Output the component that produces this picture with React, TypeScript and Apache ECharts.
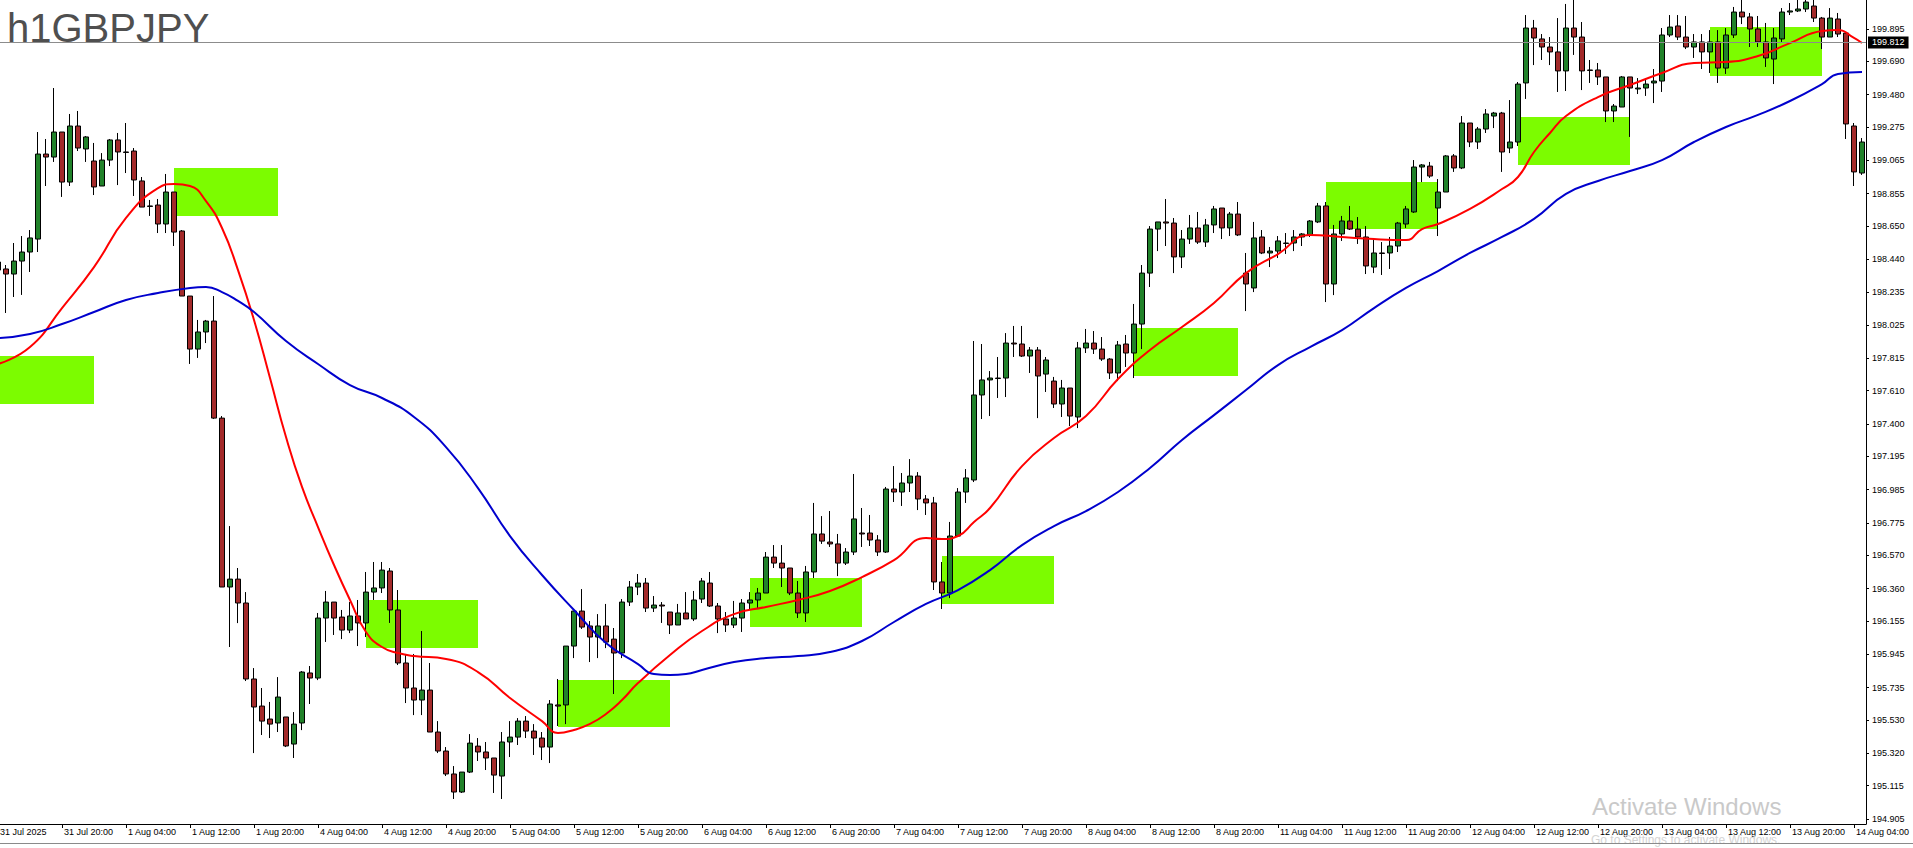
import React, { useEffect, useRef } from 'react';
import * as echarts from 'echarts';

// Each bar: [open, close, low, high]  (H1 GBPJPY, 31 Jul 12:00 .. 14 Aug 05:00)
const bars: number[][] = [
  [198.423, 198.372, 198.183, 198.499],
  [198.379, 198.347, 198.101, 198.404],
  [198.347, 198.429, 198.202, 198.543],
  [198.429, 198.486, 198.215, 198.587],
  [198.486, 198.575, 198.360, 198.625],
  [198.568, 199.105, 198.486, 199.244],
  [199.105, 199.086, 198.903, 199.200],
  [199.086, 199.244, 199.055, 199.522],
  [199.244, 198.928, 198.834, 199.244],
  [198.928, 199.282, 198.903, 199.358],
  [199.282, 199.143, 199.124, 199.377],
  [199.137, 199.213, 199.055, 199.219],
  [199.061, 198.897, 198.846, 199.175],
  [198.903, 199.067, 198.903, 199.111],
  [199.067, 199.194, 199.029, 199.200],
  [199.194, 199.118, 198.909, 199.238],
  [199.118, 199.115, 198.985, 199.301],
  [199.124, 198.941, 198.840, 199.143],
  [198.935, 198.770, 198.770, 198.960],
  [198.777, 198.774, 198.714, 198.815],
  [198.783, 198.663, 198.606, 198.821],
  [198.663, 198.865, 198.606, 198.979],
  [198.865, 198.612, 198.524, 198.865],
  [198.619, 198.208, 198.208, 198.625],
  [198.208, 197.873, 197.779, 198.208],
  [197.873, 197.981, 197.817, 198.057],
  [197.981, 198.050, 197.911, 198.057],
  [198.050, 197.437, 197.431, 198.208],
  [197.437, 196.370, 196.370, 197.450],
  [196.370, 196.420, 195.991, 196.755],
  [196.420, 196.269, 196.142, 196.490],
  [196.269, 195.789, 195.776, 196.338],
  [195.789, 195.612, 195.321, 195.858],
  [195.618, 195.523, 195.435, 195.732],
  [195.536, 195.504, 195.416, 195.644],
  [195.511, 195.675, 195.454, 195.801],
  [195.549, 195.366, 195.359, 195.549],
  [195.378, 195.504, 195.290, 195.580],
  [195.511, 195.833, 195.466, 195.839],
  [195.827, 195.795, 195.631, 195.871],
  [195.795, 196.174, 195.782, 196.206],
  [196.174, 196.275, 196.023, 196.345],
  [196.275, 196.174, 196.067, 196.275],
  [196.180, 196.098, 196.041, 196.225],
  [196.098, 196.187, 196.079, 196.275],
  [196.187, 196.143, 195.997, 196.288],
  [196.143, 196.338, 196.054, 196.465],
  [196.338, 196.364, 196.288, 196.528],
  [196.364, 196.477, 196.332, 196.528],
  [196.471, 196.225, 196.143, 196.490],
  [196.225, 195.890, 195.877, 196.351],
  [195.890, 195.732, 195.637, 195.947],
  [195.732, 195.656, 195.561, 195.947],
  [195.656, 195.719, 195.561, 196.092],
  [195.719, 195.454, 195.454, 195.890],
  [195.454, 195.334, 195.321, 195.523],
  [195.334, 195.189, 195.176, 195.359],
  [195.189, 195.075, 195.031, 195.239],
  [195.075, 195.201, 195.069, 195.201],
  [195.201, 195.384, 195.195, 195.441],
  [195.365, 195.328, 195.271, 195.416],
  [195.328, 195.290, 195.214, 195.391],
  [195.290, 195.182, 195.069, 195.290],
  [195.176, 195.391, 195.031, 195.454],
  [195.391, 195.422, 195.296, 195.523],
  [195.422, 195.523, 195.372, 195.542],
  [195.523, 195.460, 195.416, 195.555],
  [195.460, 195.416, 195.309, 195.504],
  [195.416, 195.359, 195.277, 195.454],
  [195.359, 195.631, 195.258, 195.656],
  [195.625, 195.618, 195.492, 195.789],
  [195.625, 195.997, 195.504, 195.997],
  [195.997, 196.218, 195.921, 196.218],
  [196.218, 196.117, 196.105, 196.357],
  [196.124, 196.054, 195.896, 196.155],
  [196.054, 196.124, 195.921, 196.199],
  [196.124, 196.022, 195.984, 196.263],
  [196.041, 195.953, 195.694, 196.111],
  [195.953, 196.275, 195.921, 196.294],
  [196.275, 196.370, 196.250, 196.408],
  [196.370, 196.395, 196.319, 196.452],
  [196.395, 196.237, 196.212, 196.427],
  [196.237, 196.256, 196.212, 196.313],
  [196.256, 196.250, 196.143, 196.275],
  [196.212, 196.130, 196.073, 196.212],
  [196.130, 196.206, 196.130, 196.263],
  [196.206, 196.168, 196.168, 196.338],
  [196.168, 196.288, 196.155, 196.345],
  [196.294, 196.408, 196.269, 196.427],
  [196.395, 196.250, 196.244, 196.465],
  [196.250, 196.168, 196.079, 196.269],
  [196.168, 196.130, 196.086, 196.212],
  [196.130, 196.174, 196.111, 196.282],
  [196.174, 196.269, 196.086, 196.294],
  [196.269, 196.288, 196.231, 196.338],
  [196.288, 196.332, 196.231, 196.364],
  [196.332, 196.559, 196.332, 196.591],
  [196.559, 196.521, 196.490, 196.635],
  [196.521, 196.490, 196.370, 196.635],
  [196.490, 196.332, 196.319, 196.490],
  [196.332, 196.206, 196.174, 196.408],
  [196.206, 196.465, 196.149, 196.503],
  [196.465, 196.705, 196.427, 196.901],
  [196.705, 196.660, 196.642, 196.818],
  [196.654, 196.642, 196.623, 196.850],
  [196.642, 196.521, 196.439, 196.705],
  [196.521, 196.591, 196.509, 196.616],
  [196.591, 196.800, 196.572, 197.084],
  [196.711, 196.705, 196.623, 196.869],
  [196.711, 196.667, 196.629, 196.825],
  [196.667, 196.591, 196.566, 196.698],
  [196.591, 196.989, 196.585, 197.002],
  [196.989, 196.970, 196.907, 197.134],
  [196.970, 197.027, 196.882, 197.090],
  [197.027, 197.071, 196.970, 197.178],
  [197.071, 196.926, 196.856, 197.096],
  [196.926, 196.901, 196.825, 196.951],
  [196.901, 196.402, 196.351, 196.939],
  [196.402, 196.332, 196.231, 196.528],
  [196.332, 196.692, 196.300, 196.781],
  [196.692, 196.970, 196.686, 196.995],
  [196.970, 197.059, 196.901, 197.115],
  [197.046, 197.583, 197.033, 197.924],
  [197.583, 197.678, 197.431, 197.905],
  [197.678, 197.690, 197.450, 197.734],
  [197.690, 197.687, 197.564, 197.823],
  [197.690, 197.911, 197.570, 197.974],
  [197.911, 197.905, 197.823, 198.019],
  [197.905, 197.829, 197.823, 198.019],
  [197.829, 197.867, 197.722, 197.886],
  [197.867, 197.703, 197.437, 197.886],
  [197.715, 197.804, 197.602, 197.823],
  [197.671, 197.526, 197.501, 197.697],
  [197.526, 197.627, 197.444, 197.678],
  [197.627, 197.450, 197.387, 197.627],
  [197.444, 197.880, 197.374, 197.918],
  [197.880, 197.911, 197.848, 198.000],
  [197.911, 197.873, 197.842, 197.987],
  [197.873, 197.810, 197.798, 197.949],
  [197.810, 197.722, 197.684, 197.816],
  [197.722, 197.899, 197.671, 197.924],
  [197.905, 197.848, 197.760, 197.962],
  [197.848, 198.031, 197.690, 198.158],
  [198.031, 198.353, 197.873, 198.404],
  [198.353, 198.631, 198.265, 198.650],
  [198.631, 198.676, 198.492, 198.676],
  [198.676, 198.669, 198.524, 198.821],
  [198.669, 198.455, 198.353, 198.701],
  [198.455, 198.568, 198.385, 198.625],
  [198.568, 198.638, 198.537, 198.720],
  [198.638, 198.549, 198.537, 198.739],
  [198.549, 198.657, 198.518, 198.695],
  [198.657, 198.758, 198.606, 198.777],
  [198.764, 198.638, 198.568, 198.764],
  [198.638, 198.726, 198.587, 198.739],
  [198.726, 198.594, 198.587, 198.802],
  [198.353, 198.284, 198.113, 198.480],
  [198.259, 198.575, 198.233, 198.676],
  [198.581, 198.480, 198.473, 198.625],
  [198.480, 198.492, 198.391, 198.518],
  [198.492, 198.556, 198.448, 198.587],
  [198.543, 198.540, 198.474, 198.606],
  [198.543, 198.581, 198.492, 198.625],
  [198.581, 198.600, 198.524, 198.606],
  [198.594, 198.682, 198.581, 198.688],
  [198.676, 198.777, 198.669, 198.796],
  [198.777, 198.284, 198.170, 198.802],
  [198.284, 198.600, 198.214, 198.657],
  [198.600, 198.682, 198.556, 198.714],
  [198.682, 198.631, 198.625, 198.777],
  [198.631, 198.581, 198.537, 198.707],
  [198.581, 198.398, 198.347, 198.650],
  [198.391, 198.480, 198.353, 198.562],
  [198.480, 198.477, 198.341, 198.549],
  [198.480, 198.524, 198.379, 198.581],
  [198.524, 198.669, 198.486, 198.676],
  [198.663, 198.758, 198.638, 198.777],
  [198.739, 199.023, 198.733, 199.067],
  [199.023, 199.036, 198.928, 199.042],
  [199.029, 198.966, 198.954, 199.055],
  [198.764, 198.865, 198.587, 198.947],
  [198.865, 199.093, 198.865, 199.099],
  [199.093, 199.017, 198.992, 199.105],
  [199.017, 199.301, 199.010, 199.345],
  [199.301, 199.181, 199.149, 199.301],
  [199.181, 199.263, 199.137, 199.276],
  [199.263, 199.358, 199.238, 199.389],
  [199.345, 199.364, 199.269, 199.371],
  [199.364, 199.118, 198.992, 199.371],
  [199.143, 199.181, 199.111, 199.446],
  [199.181, 199.547, 199.156, 199.560],
  [199.554, 199.901, 199.453, 199.983],
  [199.901, 199.838, 199.667, 199.952],
  [199.832, 199.781, 199.699, 199.863],
  [199.781, 199.750, 199.667, 199.844],
  [199.750, 199.630, 199.497, 199.964],
  [199.630, 199.901, 199.503, 200.053],
  [199.901, 199.844, 199.731, 200.090],
  [199.844, 199.630, 199.509, 199.939],
  [199.636, 199.633, 199.554, 199.699],
  [199.636, 199.592, 199.541, 199.680],
  [199.592, 199.377, 199.307, 199.592],
  [199.377, 199.408, 199.307, 199.421],
  [199.402, 199.592, 199.402, 199.598],
  [199.592, 199.522, 199.213, 199.592],
  [199.516, 199.522, 199.484, 199.585],
  [199.522, 199.547, 199.472, 199.585],
  [199.554, 199.566, 199.427, 199.642],
  [199.566, 199.857, 199.497, 199.901],
  [199.857, 199.907, 199.844, 199.983],
  [199.914, 199.844, 199.825, 199.983],
  [199.844, 199.781, 199.768, 199.977],
  [199.781, 199.813, 199.712, 199.863],
  [199.813, 199.750, 199.642, 199.863],
  [199.750, 199.813, 199.617, 199.888],
  [199.813, 199.648, 199.554, 199.888],
  [199.648, 199.857, 199.611, 199.901],
  [199.857, 200.002, 199.838, 200.034],
  [200.002, 199.971, 199.926, 200.090],
  [199.971, 199.895, 199.781, 199.996],
  [199.895, 199.813, 199.781, 199.977],
  [199.813, 199.712, 199.655, 199.933],
  [199.705, 199.838, 199.547, 199.901],
  [199.832, 200.002, 199.813, 200.027],
  [200.002, 200.009, 199.983, 200.059],
  [200.009, 200.021, 200.002, 200.090],
  [200.021, 200.065, 200.002, 200.100],
  [200.040, 199.964, 199.939, 200.100],
  [199.964, 199.844, 199.768, 199.971],
  [199.844, 199.964, 199.844, 200.027],
  [199.958, 199.863, 199.844, 199.996],
  [199.869, 199.295, 199.200, 199.876],
  [199.282, 198.992, 198.903, 199.301],
  [198.985, 199.181, 198.973, 199.206],
];

// Moving averages: [bar index, price]
const redMA: number[][] = [
  [0, 197.779], [4, 197.886], [8, 198.132], [12, 198.391], [16, 198.701], [20, 198.890],
  [22, 198.916], [24, 198.903], [26, 198.808], [28, 198.638], [30, 198.372], [32, 198.057],
  [34, 197.690], [36, 197.317], [38, 197.002], [40, 196.749], [42, 196.509], [44, 196.288],
  [46, 196.086], [48, 195.991], [50, 195.953], [52, 195.934], [56, 195.915], [60, 195.833],
  [64, 195.669], [68, 195.523], [70, 195.448], [72, 195.467], [74, 195.505], [76, 195.568],
  [78, 195.656], [80, 195.763], [84, 195.940], [88, 196.092], [92, 196.199], [96, 196.244],
  [100, 196.288], [104, 196.345], [108, 196.433], [112, 196.540], [116, 196.679], [118, 196.673],
  [120, 196.692], [122, 196.781], [124, 196.869], [128, 197.134], [132, 197.311], [136, 197.450],
  [140, 197.684], [144, 197.867], [148, 198.012], [152, 198.164], [156, 198.353], [160, 198.473],
  [164, 198.594], [168, 198.581], [172, 198.568], [176, 198.562], [178, 198.631], [180, 198.663],
  [184, 198.758], [188, 198.884], [190, 198.960], [192, 199.118], [194, 199.238], [196, 199.345],
  [200, 199.465], [204, 199.541], [208, 199.617], [212, 199.680], [216, 199.686], [220, 199.724],
  [224, 199.806], [228, 199.882], [230, 199.888], [232, 199.838], [233, 199.806],
];

const blueMA: number[][] = [
  [0, 197.943], [4, 197.968], [8, 198.031], [12, 198.107], [16, 198.183], [20, 198.227],
  [24, 198.259], [26, 198.265], [28, 198.233], [30, 198.177], [32, 198.107], [36, 197.924],
  [40, 197.779], [44, 197.646], [48, 197.564], [52, 197.444], [56, 197.254], [60, 196.995],
  [64, 196.692], [68, 196.446], [72, 196.225], [76, 196.016], [80, 195.883], [82, 195.820],
  [84, 195.814], [86, 195.820], [88, 195.846], [92, 195.896], [96, 195.921], [100, 195.934],
  [104, 195.959], [108, 196.029], [112, 196.149], [116, 196.263], [120, 196.351], [124, 196.477],
  [128, 196.635], [132, 196.755], [136, 196.850], [140, 196.970], [144, 197.122], [148, 197.299],
  [152, 197.456], [156, 197.614], [160, 197.772], [164, 197.886], [168, 197.993], [172, 198.132],
  [176, 198.259], [180, 198.366], [184, 198.480], [188, 198.581], [192, 198.695], [196, 198.853],
  [200, 198.935], [204, 198.998], [208, 199.067], [212, 199.181], [216, 199.276], [220, 199.352],
  [224, 199.440], [228, 199.547], [230, 199.611], [233, 199.623],
];

// Green session boxes: [start bar, end bar, low price, high price]
const sessionBoxes: number[][] = [
  [0, 12, 197.526, 197.829],
  [22, 35, 198.714, 199.017],
  [46, 60, 195.985, 196.288],
  [70, 84, 195.486, 195.783],
  [94, 108, 196.117, 196.427],
  [118, 132, 196.263, 196.566],
  [142, 155, 197.703, 198.006],
  [166, 180, 198.632, 198.928],
  [190, 204, 199.036, 199.339],
  [214, 228, 199.598, 199.908],
];

const xTickLabels = [
  '31 Jul 2025', '31 Jul 20:00', '1 Aug 04:00', '1 Aug 12:00', '1 Aug 20:00', '4 Aug 04:00',
  '4 Aug 12:00', '4 Aug 20:00', '5 Aug 04:00', '5 Aug 12:00', '5 Aug 20:00', '6 Aug 04:00',
  '6 Aug 12:00', '6 Aug 20:00', '7 Aug 04:00', '7 Aug 12:00', '7 Aug 20:00', '8 Aug 04:00',
  '8 Aug 12:00', '8 Aug 20:00', '11 Aug 04:00', '11 Aug 12:00', '11 Aug 20:00', '12 Aug 04:00',
  '12 Aug 12:00', '12 Aug 20:00', '13 Aug 04:00', '13 Aug 12:00', '13 Aug 20:00', '14 Aug 04:00',
];
const xLabelStep = 8;

const yTickLabels = [
  '199.895', '199.690', '199.480', '199.275', '199.065', '198.855', '198.650', '198.440',
  '198.235', '198.025', '197.815', '197.610', '197.400', '197.195', '196.985', '196.775',
  '196.570', '196.360', '196.155', '195.945', '195.735', '195.530', '195.320', '195.115', '194.905',
];

const bidPrice = 199.812;
const yMin = 194.873;
const yMax = 200.078;

const FONT = '"Liberation Sans", Arial, sans-serif';

export default function App() {
  const ref = useRef<HTMLDivElement>(null);

  useEffect(() => {
    if (!ref.current) return;
    const chart = echarts.init(ref.current, undefined, { renderer: 'svg' });
    const categories = bars.map((_, i) => String(i));
    const yTicks = yTickLabels.map(Number);
    const isLabelIdx = (i: number) => i % xLabelStep === 0 && i / xLabelStep < xTickLabels.length;

    chart.setOption({
      animation: false,
      backgroundColor: '#ffffff',
      grid: { left: -6, right: 47, top: 0, bottom: 24, containLabel: false, outerBoundsMode: 'none' },
      xAxis: {
        type: 'category',
        data: categories,
        boundaryGap: true,
        axisLine: { show: true, lineStyle: { color: '#000', width: 1 } },
        axisTick: {
          show: true,
          alignWithLabel: true,
          interval: (i: number) => isLabelIdx(i),
          length: 4,
          lineStyle: { color: '#000', width: 1 },
        },
        axisLabel: {
          show: true,
          interval: (i: number) => isLabelIdx(i),
          formatter: (_v: string, i: number) => xTickLabels[i / xLabelStep] ?? '',
          align: 'left',
          margin: 3,
          padding: [0, 0, 0, 2],
          color: '#000',
          fontSize: 9,
          fontFamily: FONT,
        },
        splitLine: { show: false },
      },
      yAxis: {
        type: 'value',
        position: 'right',
        min: yMin,
        max: yMax,
        scale: true,
        axisLine: { show: true, lineStyle: { color: '#000', width: 1 } },
        axisTick: { show: true, length: 3, customValues: yTicks, lineStyle: { color: '#000' } },
        axisLabel: {
          show: true,
          customValues: yTicks,
          formatter: (v: number) => v.toFixed(3),
          margin: 6,
          color: '#000',
          fontSize: 9,
          fontFamily: FONT,
        },
        splitLine: { show: false },
      },
      series: [
        {
          type: 'custom',
          name: 'sessions',
          z: 1,
          silent: true,
          data: sessionBoxes,
          encode: { x: [0, 1], y: [2, 3] },
          renderItem: (_params: any, api: any) => {
            const p1 = api.coord([api.value(0), api.value(3)]);
            const p2 = api.coord([api.value(1), api.value(2)]);
            return {
              type: 'rect',
              shape: { x: p1[0], y: p1[1], width: p2[0] - p1[0], height: p2[1] - p1[1] },
              style: { fill: '#7CFC00' },
            };
          },
          markLine: {
            silent: true,
            symbol: 'none',
            animation: false,
            lineStyle: { color: '#8c8c8c', width: 1, type: 'solid' },
            label: {
              show: true,
              position: 'end',
              formatter: bidPrice.toFixed(3),
              backgroundColor: '#000',
              color: '#fff',
              padding: [2, 4, 1, 4],
              distance: 2,
              fontSize: 9,
              fontFamily: FONT,
            },
            data: [{ yAxis: bidPrice }],
          },
        },
        {
          type: 'candlestick',
          name: 'GBPJPY',
          z: 2,
          clip: true,
          barWidth: 5,
          data: bars,
          itemStyle: {
            color: '#21822a',
            color0: '#a32a2a',
            borderColor: '#000',
            borderColor0: '#000',
            borderColorDoji: '#000',
            borderWidth: 1,
          },
        },
        {
          type: 'line',
          name: 'MA fast',
          z: 3,
          data: redMA,
          smooth: 0.5,
          showSymbol: false,
          symbol: 'none',
          lineStyle: { color: '#ff0000', width: 2 },
        },
        {
          type: 'line',
          name: 'MA slow',
          z: 3,
          data: blueMA,
          smooth: 0.5,
          showSymbol: false,
          symbol: 'none',
          lineStyle: { color: '#0000cd', width: 2 },
        },
      ],
      graphic: [
        {
          type: 'text',
          x: 7,
          y: 28,
          z: 100,
          silent: true,
          style: { text: 'h1GBPJPY', font: `40px ${FONT}`, fill: '#4f4f4f', verticalAlign: 'middle' },
        },
        {
          type: 'text',
          x: 1592,
          y: 806,
          z: 100,
          silent: true,
          style: { text: 'Activate Windows', font: `24px ${FONT}`, fill: '#c9c9c9', verticalAlign: 'middle' },
        },
        {
          type: 'text',
          x: 1591,
          y: 840,
          z: 100,
          silent: true,
          style: { text: 'Go to Settings to activate Windows.', font: `12px ${FONT}`, fill: '#d4d4d4', verticalAlign: 'middle' },
        },
        {
          type: 'line',
          z: 100,
          silent: true,
          shape: { x1: 0, y1: 843.5, x2: 1913, y2: 843.5 },
          style: { stroke: '#8a8a8a', lineWidth: 1 },
        },
      ],
    });

    return () => chart.dispose();
  }, []);

  return (
    <div
      ref={ref}
      style={{ position: 'absolute', left: 0, top: 0, width: 1913, height: 848, background: '#fff' }}
    />
  );
}
